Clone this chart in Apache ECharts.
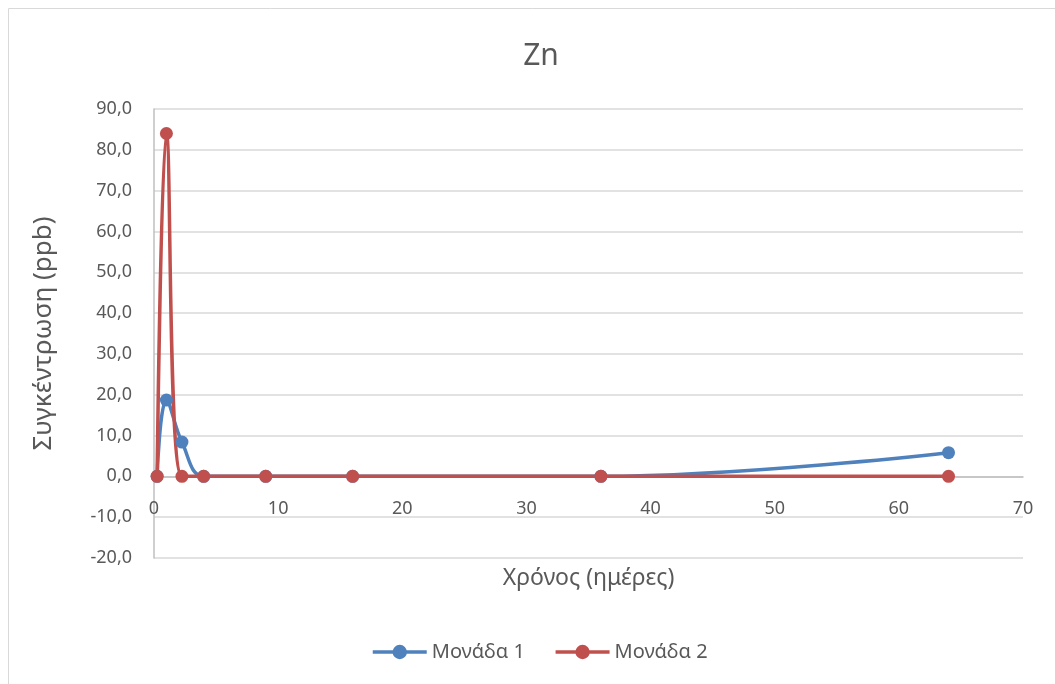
<!DOCTYPE html>
<html>
<head>
<meta charset="utf-8">
<style>
  html, body { margin: 0; padding: 0; background: #fff; }
  #chart { width: 1055px; height: 684px; }
</style>
<script src="https://cdn.jsdelivr.net/npm/echarts@6/dist/echarts.min.js"></script>
</head>
<body>
<div id="chart"></div>
<script>
// Sampling days
const days = [0.25, 1, 2.25, 4, 9, 16, 36, 64];
// Zn concentration (ppb) per unit
const unit1 = [0.0, 18.7, 8.4, 0.0, 0.0, 0.0, 0.0, 5.8];
const unit2 = [0.0, 84.0, 0.0, 0.0, 0.0, 0.0, 0.0, 0.0];
const seriesNames = ['Μονάδα 1', 'Μονάδα 2'];

const X_MIN = 0, X_MAX = 70, X_STEP = 10;
const Y_MIN = -20, Y_MAX = 90, Y_STEP = 10;

const FONT = '"Noto Sans", "Open Sans", sans-serif';
const TEXT = '#595959';

const GRID = { left: 154, right: 32, top: 109, bottom: 126 };
const PLOT_H = 684 - GRID.top - GRID.bottom;
// lift the horizontal axis from the bottom of the plot up to y = 0
const xAxisLift = -PLOT_H * (0 - Y_MIN) / (Y_MAX - Y_MIN);

const pairs = (xs, ys) => xs.map((x, i) => [x, ys[i]]);

const chart = echarts.init(document.getElementById('chart'));

function lineSeries(name, data, color) {
  return {
    name: name,
    type: 'line',
    data: data,
    smooth: 0.4,
    symbol: 'circle',
    symbolSize: 13,
    lineStyle: { color: color, width: 3.5 },
    itemStyle: { color: color },
    emphasis: { disabled: true }
  };
}

chart.setOption({
  animation: false,
  backgroundColor: '#ffffff',
  graphic: [{
    type: 'rect',
    shape: { x: 8.5, y: 8.5, width: 1060, height: 700 },
    style: { fill: 'none', stroke: '#d9d9d9', lineWidth: 1 },
    silent: true
  }],
  title: {
    text: 'Zn',
    left: 536,
    textAlign: 'center',
    top: 36,
    textStyle: { fontFamily: FONT, fontSize: 30, fontWeight: 'normal', color: TEXT }
  },
  legend: {
    bottom: 17,
    left: 366,
    itemWidth: 54,
    itemHeight: 18,
    itemGap: 29,
    data: seriesNames,
    lineStyle: { width: 3.5 },
    textStyle: { fontFamily: FONT, fontSize: 20, color: TEXT }
  },
  grid: GRID,
  xAxis: {
    type: 'value',
    min: X_MIN,
    max: X_MAX,
    interval: X_STEP,
    offset: xAxisLift,
    name: 'Χρόνος (ημέρες)',
    nameLocation: 'middle',
    nameGap: 91,
    nameTextStyle: { fontFamily: FONT, fontSize: 23, color: TEXT },
    axisLine: { onZero: false, lineStyle: { color: '#bfbfbf', width: 1.5 } },
    axisTick: { show: false },
    axisLabel: { margin: 24, fontFamily: FONT, fontSize: 18, color: TEXT },
    splitLine: { show: false }
  },
  yAxis: {
    type: 'value',
    min: Y_MIN,
    max: Y_MAX,
    interval: Y_STEP,
    name: 'Συγκέντρωση (ppb)',
    nameLocation: 'middle',
    nameGap: 97,
    nameRotate: 90,
    nameTextStyle: { fontFamily: FONT, fontSize: 26, color: TEXT },
    axisLine: { show: true, onZero: false, lineStyle: { color: '#bfbfbf', width: 1.5 } },
    axisTick: { show: false },
    axisLabel: {
      margin: 22,
      fontFamily: FONT,
      fontSize: 18,
      color: TEXT,
      formatter: v => v.toFixed(1).replace('.', ',')
    },
    splitLine: { lineStyle: { color: '#d9d9d9', width: 1.5 } }
  },
  series: [
    lineSeries(seriesNames[0], pairs(days, unit1), '#4F81BD'),
    lineSeries(seriesNames[1], pairs(days, unit2), '#C0504D')
  ]
});
</script>
</body>
</html>
